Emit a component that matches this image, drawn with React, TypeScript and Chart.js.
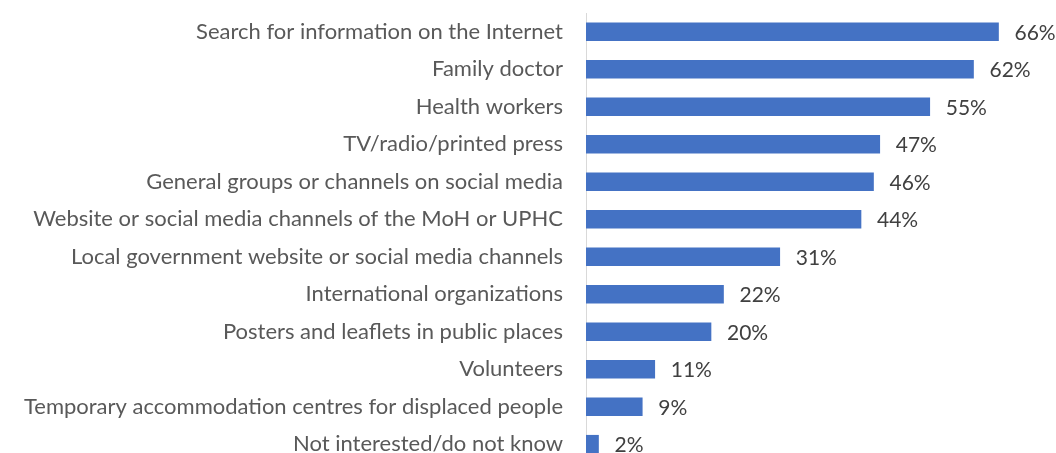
import React, { useEffect, useRef } from "react";
import { Chart, registerables } from "chart.js";

Chart.register(...registerables);

const categories = [
  "Search for information on the Internet",
  "Family doctor",
  "Health workers",
  "TV/radio/printed press",
  "General groups or channels on social media",
  "Website or social media channels of the MoH or UPHC",
  "Local government website or social media channels",
  "International organizations",
  "Posters and leaflets in public places",
  "Volunteers",
  "Temporary accommodation centres for displaced people",
  "Not interested/do not know",
];
const values = [66, 62, 55, 47, 46, 44, 31, 22, 20, 11, 9, 2];

const FONT = "Lato, sans-serif";

export default function App() {
  const ref = useRef<HTMLCanvasElement | null>(null);
  useEffect(() => {
    if (!ref.current) return;
    const labelPlugin = {
      id: "valueLabels",
      afterDatasetsDraw(chart: any) {
        const ctx = chart.ctx;
        const meta = chart.getDatasetMeta(0);
        ctx.save();
        ctx.font = `21px ${FONT}`;
        ctx.fillStyle = "#404040";
        ctx.textAlign = "left";
        ctx.textBaseline = "middle";
        meta.data.forEach((bar: any, i: number) => {
          ctx.fillText(`${values[i]}%`, bar.x + 16, bar.y + 1);
        });
        ctx.restore();
      },
    };
    const chart = new Chart(ref.current, {
      type: "bar",
      data: {
        labels: categories,
        datasets: [
          {
            data: values,
            backgroundColor: "#4472C4",
            barThickness: 18,
          },
        ],
      },
      options: {
        indexAxis: "y",
        animation: false,
        responsive: false,
        layout: { padding: { top: 13, right: 20, bottom: 0, left: 0 } },
        plugins: { legend: { display: false }, tooltip: { enabled: false } },
        scales: {
          x: { display: false, min: 0, max: 72 },
          y: {
            grid: { display: false, drawTicks: false },
            border: { display: true, color: "#d9d9d9", width: 1 },
            ticks: {
              color: "#595959",
              font: { family: FONT, size: 22 },
              padding: 23,
              autoSkip: false,
            },
            afterFit(scale: any) {
              scale.width = 586;
              scale.paddingTop = 0;
              scale.paddingBottom = 0;
            },
          },
        },
      },
      plugins: [labelPlugin],
    });
    return () => chart.destroy();
  }, []);
  return (
    <div
      style={{
        position: "absolute",
        left: 0,
        top: 0,
        width: 1056,
        height: 453,
        overflow: "hidden",
        background: "#ffffff",
      }}
    >
      <canvas ref={ref} width={1056} height={463} style={{ display: "block" }} />
    </div>
  );
}
